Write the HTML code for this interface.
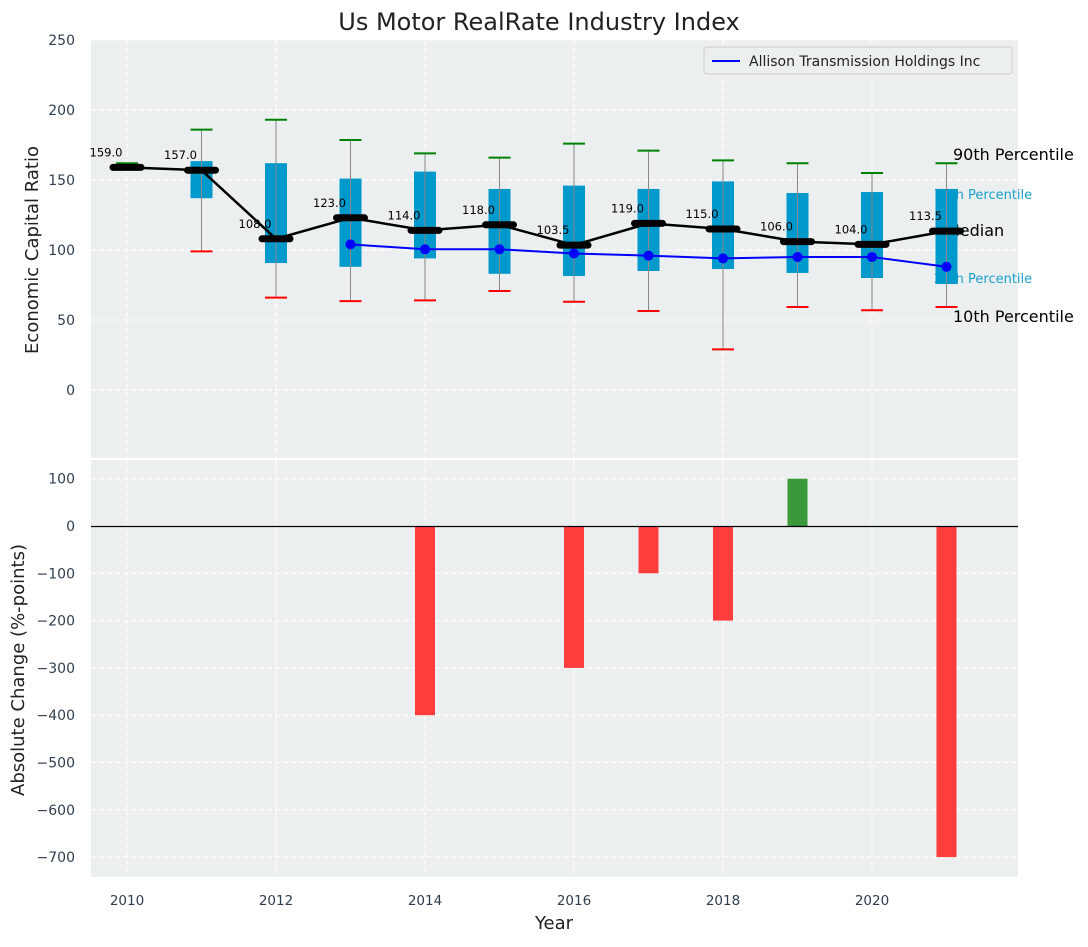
<!DOCTYPE html>
<html><head><meta charset="utf-8"><style>
body{margin:0;background:#fff;font-family:"Liberation Sans","DejaVu Sans",sans-serif}
svg text{font-family:"DejaVu Sans","Liberation Sans",sans-serif}
</style></head><body>
<svg id="c" width="1088" height="942" xmlns="http://www.w3.org/2000/svg"></svg>
<script>
const years=[2010,2011,2012,2013,2014,2015,2016,2017,2018,2019,2020,2021];
const p10=[159,99,66,63.5,64,70.7,63,56.4,29,59.3,57,59.3];
const p25=[158,137,90.7,88,94,83,81.4,85,86.4,83.6,80,75.7];
const med=[159,157,108,123,114,118,103.5,119,115,106,104,113.5];
const p75=[162,163.5,162,151,156,143.6,146,143.6,149,140.7,141.4,143.6];
const p90=[162,186,193,178.6,169,166,176,171,164,162,155,162];
const compYears=[2013,2014,2015,2016,2017,2018,2019,2020,2021];
const compVals=[104,100.5,100.5,97.5,96,94,95,95,88];
const chgYears=[2014,2016,2017,2018,2019,2021];
const chgVals=[-400,-300,-100,-200,100,-700];
const yTop=[0,50,100,150,200,250];
const yBot=[100,0,-100,-200,-300,-400,-500,-600,-700];
const xTicks=[2010,2012,2014,2016,2018,2020];

const svg=document.getElementById('c');
const NS='http://www.w3.org/2000/svg';
function mk(t,a,p){const e=document.createElementNS(NS,t);for(const k in a)e.setAttribute(k,a[k]);(p||svg).appendChild(e);return e;}
const X=v=>127+(v-2010)*74.5;
const Y1=v=>390-v*1.4;
const Y2=v=>526-v*0.473;
const L=91,R=1018;

const a1=mk('rect',{x:L,y:40,width:R-L,height:418,fill:'#eceff0'});

const a2=mk('rect',{x:L,y:460,width:R-L,height:417,fill:'#eceff0'});


yTop.forEach(v=>{mk('line',{x1:L,x2:R,y1:Y1(v),y2:Y1(v),stroke:'#fff','stroke-dasharray':'5,3'});
 const t=mk('text',{x:75,y:Y1(v)+5,'text-anchor':'end','font-size':14,fill:'#2f3e4e'});t.textContent=v;
 });
yBot.forEach(v=>{mk('line',{x1:L,x2:R,y1:Y2(v),y2:Y2(v),stroke:'#fff','stroke-dasharray':'5,3'});
 const t=mk('text',{x:75,y:Y2(v)+5,'text-anchor':'end','font-size':14,fill:'#2f3e4e'});t.textContent=v===0?'0':(v<0?'\u2212'+(-v):v);
 });
xTicks.forEach(v=>{mk('line',{x1:X(v),x2:X(v),y1:40,y2:458,stroke:'#fff','stroke-dasharray':'5,3'});
 mk('line',{x1:X(v),x2:X(v),y1:460,y2:877,stroke:'#fff','stroke-dasharray':'5,3'});
 const t=mk('text',{x:X(v),y:905,'text-anchor':'middle','font-size':13.5,fill:'#2f3e4e'});t.textContent=v;
 });

[['90th Percentile',p90,16,'#000',953,-9],['75th Percentile',p75,13,'#1aa0cc',934,5],['Median',med,16,'#000',946,-1],['25th Percentile',p25,13,'#1aa0cc',934,-6],['10th Percentile',p10,16,'#000',953,9]].forEach(d=>{
 const t=mk('text',{x:d[4],y:Y1(d[1][11])+d[5]+(d[2]==16?6:5),'font-size':d[2],fill:d[3]});t.textContent=d[0];
 });

years.forEach((yr,i)=>{
 const x=X(yr);
 const b=mk('rect',{x:x-11,y:Y1(p75[i]),width:22,height:Y1(p25[i])-Y1(p75[i]),fill:'#0099cc'});
 
 mk('line',{x1:x,x2:x,y1:Y1(p90[i]),y2:Y1(p10[i]),stroke:'#888','stroke-width':1});
 mk('line',{x1:x-11,x2:x+11,y1:Y1(p90[i]),y2:Y1(p90[i]),stroke:'green','stroke-width':2});
 mk('line',{x1:x-11,x2:x+11,y1:Y1(p10[i]),y2:Y1(p10[i]),stroke:'red','stroke-width':2});
});
let d='';compYears.forEach((yr,i)=>{d+=(i?'L':'M')+X(yr)+','+Y1(compVals[i]);});
const cl=mk('path',{d:d,stroke:'blue','stroke-width':2,fill:'none'});

compYears.forEach((yr,i)=>{const c=mk('circle',{cx:X(yr),cy:Y1(compVals[i]),r:5,fill:'blue'});
 });
d='';years.forEach((yr,i)=>{d+=(i?'L':'M')+X(yr)+','+Y1(med[i]);});
const ml=mk('path',{d:d,stroke:'#000','stroke-width':2.5,fill:'none'});

years.forEach((yr,i)=>{const x=X(yr),y=Y1(med[i]);
 const m=mk('line',{x1:x-14,x2:x+14,y1:y,y2:y,stroke:'#000','stroke-width':7,'stroke-linecap':'round'});
 
 const t=mk('text',{x:x-21,y:y-11,'text-anchor':'middle','font-size':11.5,fill:'#000'});t.textContent=med[i].toFixed(1);
 });

chgYears.forEach((yr,i)=>{const v=chgVals[i];
 const r=mk('rect',{x:X(yr)-10,y:Math.min(Y2(v),Y2(0)),width:20,height:Math.abs(Y2(v)-Y2(0)),fill:v>=0?'#3a9a3a':'#ff3d3d'});
 });
const zl=mk('line',{x1:L,x2:R,y1:Y2(0)+0.5,y2:Y2(0)+0.5,stroke:'#000','stroke-width':1.2});


const lg=mk('g',{});
mk('rect',{x:704,y:47,width:308,height:27,rx:3,fill:'#eceff0',stroke:'#ccc'},lg);
mk('line',{x1:712,x2:740,y1:61,y2:61,stroke:'blue','stroke-width':2},lg);
const lt=mk('text',{x:749,y:66,'font-size':14,fill:'#222'},lg);lt.textContent='Allison Transmission Holdings Inc';

let t=mk('text',{x:539,y:30,'text-anchor':'middle','font-size':24,fill:'#222'});t.textContent='Us Motor RealRate Industry Index';

t=mk('text',{x:554,y:929,'text-anchor':'middle','font-size':18,fill:'#222'});t.textContent='Year';

t=mk('text',{x:0,y:0,'text-anchor':'middle','font-size':18,fill:'#222',transform:'translate(38,250) rotate(-90)'});t.textContent='Economic Capital Ratio';

t=mk('text',{x:0,y:0,'text-anchor':'middle','font-size':18,fill:'#222',transform:'translate(24,670) rotate(-90)'});t.textContent='Absolute Change (%-points)';

</script>
</body></html>
